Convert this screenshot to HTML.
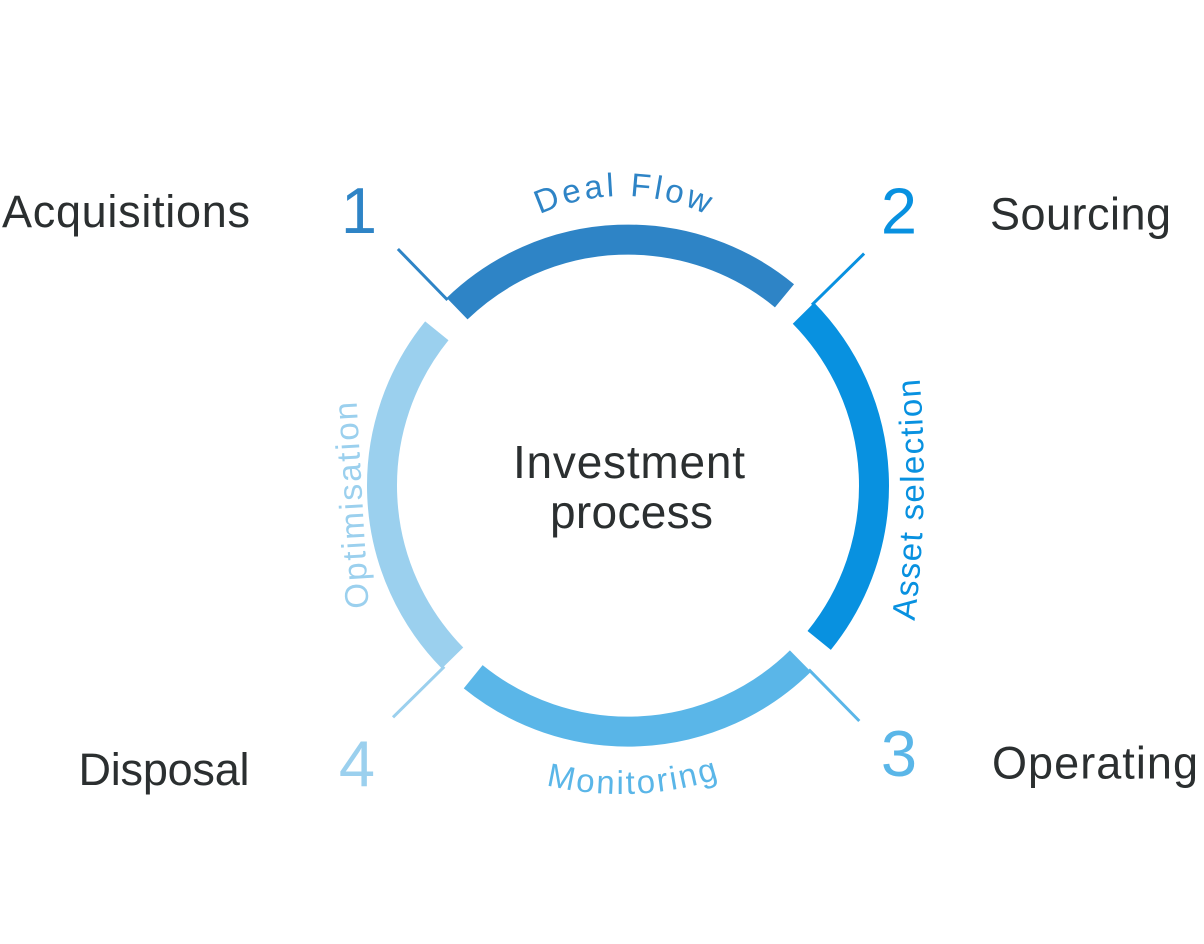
<!DOCTYPE html>
<html>
<head>
<meta charset="utf-8">
<style>
  html, body { margin: 0; padding: 0; background: #ffffff; }
  svg { display: block; }
  text { font-family: "Liberation Sans", "DejaVu Sans", sans-serif; }
</style>
</head>
<body>
<svg width="1204" height="944" viewBox="0 0 1204 944" xmlns="http://www.w3.org/2000/svg">
  <rect width="1204" height="944" fill="#ffffff"/>

  <!-- ring segments -->
  <g fill="none" stroke-width="30" stroke-linecap="butt">
    <path d="M 457.11 308.64 A 246 246 0 0 1 784.48 295.78" stroke="#2e84c6"/>
    <path d="M 803.46 313.18 A 246 246 0 0 1 819.18 640.41" stroke="#0891e0"/>
    <path d="M 800.42 661.06 A 246 246 0 0 1 473.19 676.78" stroke="#5ab6e8"/>
    <path d="M 452.54 658.02 A 246 246 0 0 1 436.82 330.79" stroke="#9bd0ee"/>
  </g>

  <!-- ticks -->
  <g stroke-width="3" stroke-linecap="butt">
    <line x1="447.5" y1="300" x2="397.9" y2="249.0" stroke="#2e84c6"/>
    <line x1="812" y1="304.8" x2="864.1" y2="253.6" stroke="#0891e0"/>
    <line x1="808.8" y1="669.6" x2="859.3" y2="721.0" stroke="#5ab6e8"/>
    <line x1="444.3" y1="666.7" x2="393.0" y2="717.3" stroke="#9bd0ee"/>
  </g>

  <!-- paths for curved labels -->
  <defs>
    <path id="pDeal" d="M 426 393 A 197 197 0 0 1 820 393"/>
    <path id="pMon" d="M 300.5 473.5 A 320.5 320.5 0 0 0 941.5 473.5"/>
    <path id="pOpt" d="M 368.6 608 L 356.4 399"/>
    <path id="pAsset" d="M 914.5 621 Q 930 500 919.5 377"/>
  </defs>

  <text font-size="33" fill="#2e84c6">
    <textPath href="#pDeal" startOffset="50%" text-anchor="middle" textLength="172" lengthAdjust="spacing">Deal Flow</textPath>
  </text>
  <text font-size="33" fill="#5ab6e8">
    <textPath href="#pMon" startOffset="515" text-anchor="middle" textLength="175" lengthAdjust="spacing">Monitoring</textPath>
  </text>
  <text font-size="33" fill="#9bd0ee">
    <textPath href="#pOpt" startOffset="0" textLength="207" lengthAdjust="spacing">Optimisation</textPath>
  </text>
  <text font-size="33" fill="#0891e0">
    <textPath href="#pAsset" startOffset="0" textLength="243" lengthAdjust="spacing">Asset selection</textPath>
  </text>

  <!-- numbers -->
  <g font-size="65" text-anchor="middle">
    <text x="359" y="233" fill="#2e84c6">1</text>
    <text x="899" y="233.5" fill="#0891e0">2</text>
    <text x="899" y="776" fill="#5ab6e8">3</text>
    <text x="357" y="786" fill="#9bd0ee">4</text>
  </g>

  <!-- stage labels -->
  <g font-size="45" fill="#2b2f30">
    <text x="2" y="227" textLength="248" lengthAdjust="spacing">Acquisitions</text>
    <text x="990" y="229.5" textLength="181" lengthAdjust="spacing">Sourcing</text>
    <text x="992" y="778.5" textLength="206" lengthAdjust="spacing">Operating</text>
    <text x="78.5" y="785" textLength="171" lengthAdjust="spacing">Disposal</text>
  </g>

  <!-- center -->
  <g font-size="46" fill="#2b2f30" text-anchor="middle">
    <text x="629" y="478" textLength="232" lengthAdjust="spacing">Investment</text>
    <text x="631.5" y="528" textLength="163" lengthAdjust="spacing">process</text>
  </g>
</svg>
</body>
</html>
